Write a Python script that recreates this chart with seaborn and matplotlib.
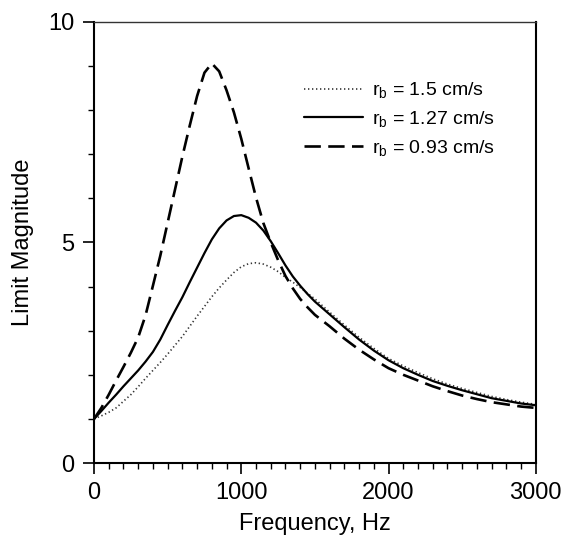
import pandas as pd
import matplotlib.pyplot as plt
import seaborn as sns
from matplotlib.ticker import MultipleLocator


freq = [
    0, 50, 100, 150, 200, 250, 300, 350, 400, 450, 500, 550, 600, 650, 700,
    750, 800, 850, 900, 950, 1000, 1050, 1100, 1150, 1200, 1250, 1300, 1350,
    1400, 1450, 1500, 1600, 1700, 1800, 1900, 2000, 2100, 2200, 2300, 2400,
    2500, 2600, 2700, 2800, 2900, 3000
]
rb_150 = [
    1.0, 1.07, 1.15, 1.25, 1.4, 1.55, 1.73, 1.92, 2.1, 2.28, 2.47, 2.67, 2.87,
    3.1, 3.33, 3.55, 3.77, 3.97, 4.15, 4.32, 4.45, 4.52, 4.54, 4.51, 4.44,
    4.34, 4.21, 4.1, 3.98, 3.85, 3.72, 3.42, 3.13, 2.85, 2.6, 2.37, 2.2,
    2.05, 1.91, 1.79, 1.69, 1.6, 1.51, 1.44, 1.38, 1.33
]
rb_127 = [
    1.0, 1.18, 1.37, 1.55, 1.74, 1.92, 2.1, 2.3, 2.52, 2.8, 3.13, 3.45, 3.76,
    4.1, 4.43, 4.76, 5.07, 5.32, 5.5, 5.6, 5.62, 5.56, 5.45, 5.27, 5.03, 4.76,
    4.48, 4.23, 4.02, 3.83, 3.66, 3.37, 3.08, 2.8, 2.55, 2.33, 2.15, 2.0, 1.86,
    1.75, 1.65, 1.56, 1.47, 1.41, 1.35, 1.31
]
rb_093 = [
    1.0, 1.25, 1.55, 1.87, 2.18, 2.5, 2.85, 3.35, 4.02, 4.7, 5.45, 6.2, 6.95,
    7.65, 8.32, 8.85, 9.06, 8.88, 8.45, 7.95, 7.35, 6.68, 6.02, 5.44, 5.0, 4.6,
    4.24, 3.96, 3.72, 3.53, 3.36, 3.1, 2.82, 2.57, 2.35, 2.15, 2.0, 1.87, 1.74,
    1.63, 1.53, 1.45, 1.38, 1.33, 1.28, 1.25
]
labels = [
    r"$\mathregular{r_b}$ = 1.5 cm/s",
    r"$\mathregular{r_b}$ = 1.27 cm/s",
    r"$\mathregular{r_b}$ = 0.93 cm/s",
]

df = pd.DataFrame({"Frequency": freq, "r150": rb_150, "r127": rb_127, "r093": rb_093})

sns.set_style("ticks")
plt.rcParams["font.family"] = ["Liberation Sans", "DejaVu Sans"]
plt.rcParams["mathtext.fontset"] = "custom"
plt.rcParams["mathtext.rm"] = "Liberation Sans"
for key in ["text.color", "axes.labelcolor", "xtick.color", "ytick.color"]:
    plt.rcParams[key] = "black"

fig = plt.figure(figsize=(5.64, 5.49), dpi=100)
ax = fig.add_axes([0.1667, 0.1566, 0.7833, 0.8034])

sns.lineplot(x="Frequency", y="r150", data=df, ax=ax, color="#333333",
             linewidth=1.2, label=labels[0])
ax.lines[-1].set_linestyle((0, (0.8, 1.6)))
sns.lineplot(x="Frequency", y="r127", data=df, ax=ax, color="black",
             linewidth=1.6, label=labels[1])
sns.lineplot(x="Frequency", y="r093", data=df, ax=ax, color="black",
             linewidth=1.9, label=labels[2])
ax.lines[-1].set_linestyle((0, (6.2, 2.8)))

ax.set_xlim(0, 3000)
ax.set_ylim(0, 10)
ax.xaxis.set_major_locator(MultipleLocator(1000))
ax.xaxis.set_minor_locator(MultipleLocator(100))
ax.yaxis.set_major_locator(MultipleLocator(5))
ax.yaxis.set_minor_locator(MultipleLocator(1))
ax.tick_params(which="major", length=8, width=1.2, labelsize=17, pad=6, color="black")
ax.tick_params(which="minor", length=4, width=1.0, color="black")

for side in ["left", "bottom", "right"]:
    ax.spines[side].set_linewidth(1.5)
    ax.spines[side].set_color("black")
ax.spines["top"].set_linewidth(1.0)
ax.spines["top"].set_color("#333333")

ax.set_xlabel("Frequency, Hz", fontsize=17, labelpad=6)
ax.set_ylabel("Limit Magnitude", fontsize=17, labelpad=10)

leg = ax.legend(loc="upper right", bbox_to_anchor=(0.948, 0.907), frameon=False,
                fontsize=14, handlelength=3.0, handletextpad=0.5, labelspacing=0.45)

plt.savefig("out.png", dpi=100)
